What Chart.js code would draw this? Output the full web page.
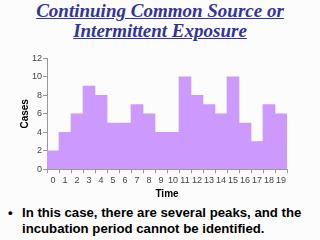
<!DOCTYPE html>
<html>
<head>
<meta charset="utf-8">
<script src="https://cdn.jsdelivr.net/npm/chart.js@4"></script>
<style>
  body { margin: 0; width: 320px; height: 240px; background: #fcfcfc; overflow: hidden; position: relative; font-family: "Liberation Sans", Arial, sans-serif; }
  .title { position: absolute; top: 1px; left: 0; width: 320px; text-align: center; font-family: "Liberation Serif", "Times New Roman", serif; font-style: italic; font-weight: bold; font-size: 19px; line-height: 20px; color: #333399; text-decoration: underline; }
  .chart-box { position: absolute; left: 0; top: 52px; width: 300px; height: 148px; }
  .bullet { position: absolute; left: 8px; top: 205px; width: 312px; font-weight: bold; font-size: 13.2px; line-height: 16px; color: #000; }
  .bullet span { position: absolute; left: 0; top: 0; }
  .bullet p { margin: 0 0 0 14px; }
</style>
</head>
<body>
<div class="title">Continuing Common Source or<br>Intermittent Exposure</div>
<div class="chart-box"><canvas id="epiChart" width="300" height="148"></canvas></div>
<div class="bullet"><span>•</span><p>In this case, there are several peaks, and the incubation period cannot be identified.</p></div>
<script>
// dados do gráfico
const timeLabels = ['0', '1', '2', '3', '4', '5', '6', '7', '8', '9', '10', '11', '12', '13', '14', '15', '16', '17', '18', '19'];
const cases = [2, 4, 6, 9, 8, 5, 5, 7, 6, 4, 4, 10, 8, 7, 6, 10, 5, 3, 7, 6];
const yTicks = [0, 2, 4, 6, 8, 10, 12];

const tickFont = { family: 'Liberation Sans', size: 9 };

const ctx = document.getElementById('epiChart').getContext('2d');
new Chart(ctx, {
    type: 'bar',
    data: {
        labels: timeLabels,
        datasets: [{
            label: 'Cases',
            data: cases,
            backgroundColor: '#cc99ff',
            borderWidth: 0,
            barPercentage: 1.0,
            categoryPercentage: 1.0
        }]
    },
    options: {
        responsive: false,
        animation: false,
        layout: { padding: { left: 16, right: 13, top: 4, bottom: 0 } },
        plugins: { legend: { display: false }, tooltip: { enabled: false } },
        scales: {
            x: {
                grid: { display: true, drawOnChartArea: false, offset: true, color: '#999', tickLength: 4 },
                border: { color: '#999' },
                ticks: { color: '#444', font: tickFont, maxRotation: 0, autoSkip: false, padding: 2 },
                title: { display: true, text: 'Time', color: '#000', font: { family: 'Liberation Sans', size: 10, weight: 'bold' }, padding: { top: 0, bottom: 0 } }
            },
            y: {
                min: 0,
                max: 12,
                afterBuildTicks: axis => { axis.ticks = yTicks.map(v => ({ value: v })); },
                grid: { display: true, drawOnChartArea: false, color: '#999', tickLength: 4 },
                border: { color: '#999' },
                ticks: { color: '#444', font: tickFont, padding: 1 },
                title: { display: true, text: 'Cases', color: '#000', font: { family: 'Liberation Sans', size: 10, weight: 'bold' }, padding: { top: 3, bottom: 0 } }
            }
        }
    }
});
</script>
</body>
</html>
